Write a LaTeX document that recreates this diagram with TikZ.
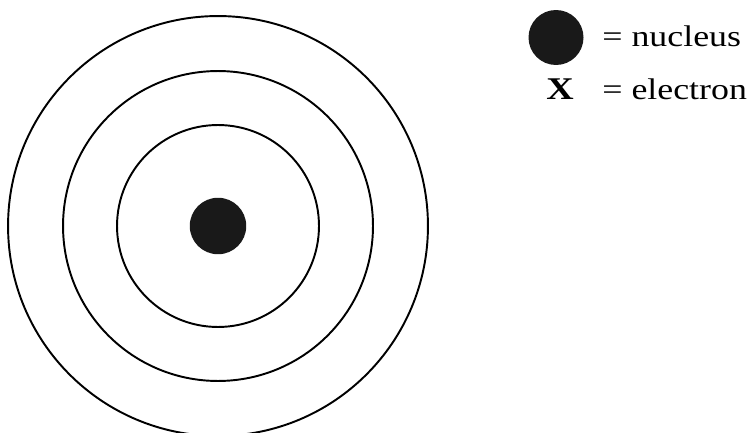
\documentclass[tikz,border=0pt]{standalone}
\usepackage{fontspec}
\newfontfamily\legendfont[FakeStretch=1.2]{Liberation Serif}
\usepackage{tikz}

\begin{document}
\begin{tikzpicture}[
  x=0.02cm, y=-0.02cm,
  orbit/.style={circle, draw, line width=1.1pt, inner sep=0pt, outer sep=0pt},
  dot/.style={circle, fill=black!90, inner sep=0pt, outer sep=0pt},
  lbl/.style={anchor=base west, inner sep=0pt, font=\legendfont\fontsize{17}{20}\selectfont}
]
\useasboundingbox (0,0) rectangle (756,432);

% atom
\node[orbit, minimum size=8.4cm] (shell3) at (218,226) {};
\node[orbit, minimum size=6.2cm] (shell2) at (218,226) {};
\node[orbit, minimum size=4.04cm] (shell1) at (218,226) {};
\node[dot, minimum size=1.13cm] (nucleus) at (218,226) {};

% legend
\node[dot, minimum size=1.1cm] (keydot) at (556,37.5) {};
\node[lbl] (nucleustxt) at (602,47) {= nucleus};
\node[lbl, anchor=base, font=\legendfont\fontsize{18}{20}\selectfont\bfseries] (keyx) at (560,100) {X};
\node[lbl] (electrontxt) at (602,100) {= electron};

\end{tikzpicture}
\end{document}
